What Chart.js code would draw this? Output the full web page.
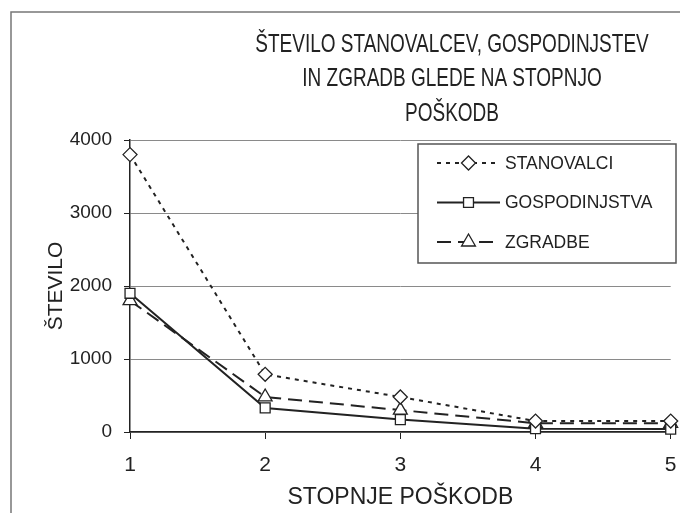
<!DOCTYPE html>
<html>
<head>
<meta charset="utf-8">
<script src="https://cdn.jsdelivr.net/npm/chart.js@4/dist/chart.umd.min.js"></script>
<style>
  html, body { margin: 0; padding: 0; background: #fff; }
  #wrap { width: 680px; height: 513px; }
</style>
</head>
<body>
<div id="wrap"><canvas id="c" width="680" height="513"></canvas></div>
<script>
// Damage levels on the x axis
const stopnje = ['1', '2', '3', '4', '5'];

// Counts per damage level
const stanovalci = [3800, 790, 480, 150, 150];
const gospodinjstva = [1900, 330, 170, 45, 40];
const zgradbe = [1800, 480, 300, 120, 120];

const seriesNames = ['STANOVALCI', 'GOSPODINJSTVA', 'ZGRADBE'];
const titleLines = ['ŠTEVILO STANOVALCEV, GOSPODINJSTEV', 'IN ZGRADB GLEDE NA STOPNJO', 'POŠKODB'];
const yTitle = 'ŠTEVILO';
const xTitle = 'STOPNJE POŠKODB';

const INK = '#222';
const FONT = '"Liberation Sans", Arial, sans-serif';

// Frame, condensed title and boxed legend drawn on top of the chart
const decor = {
  id: 'decor',
  afterDraw(chart) {
    const ctx = chart.ctx;
    ctx.save();
    // outer frame (top and left edges)
    ctx.strokeStyle = '#777';
    ctx.lineWidth = 1.5;
    ctx.beginPath();
    ctx.moveTo(11, 513);
    ctx.lineTo(11, 12);
    ctx.lineTo(680, 12);
    ctx.stroke();

    // title, set in a condensed width
    const squeeze = 0.76;
    const cx = 452;
    ctx.save();
    ctx.translate(cx, 0);
    ctx.scale(squeeze, 1);
    ctx.fillStyle = INK;
    ctx.font = '25px ' + FONT;
    ctx.textAlign = 'center';
    ctx.textBaseline = 'middle';
    titleLines.forEach((t, i) => ctx.fillText(t, 0, 45 + i * 34.5));
    ctx.restore();

    // legend box
    const lx = 418, ly = 144, lw = 258, lh = 119;
    ctx.fillStyle = '#fff';
    ctx.fillRect(lx, ly, lw, lh);
    ctx.strokeStyle = '#555';
    ctx.lineWidth = 1.5;
    ctx.strokeRect(lx, ly, lw, lh);

    chart.data.datasets.forEach((ds, i) => {
      const y = 163 + i * 39.5;
      const x0 = 437, x1 = 500, xm = (x0 + x1) / 2;
      ctx.strokeStyle = ds.borderColor;
      ctx.lineWidth = ds.borderWidth;
      ctx.setLineDash(ds.borderDash || []);
      ctx.beginPath();
      ctx.moveTo(x0, y);
      ctx.lineTo(x1, y);
      ctx.stroke();
      ctx.setLineDash([]);
      ctx.fillStyle = ds.pointBackgroundColor;
      ctx.strokeStyle = ds.pointBorderColor;
      ctx.lineWidth = ds.pointBorderWidth;
      Chart.helpers.drawPoint(ctx, {
        pointStyle: ds.pointStyle,
        radius: ds.pointRadius,
        borderWidth: ds.pointBorderWidth,
        rotation: 0
      }, xm, y);
      ctx.fillStyle = INK;
      ctx.font = '17.5px ' + FONT;
      ctx.textAlign = 'left';
      ctx.textBaseline = 'middle';
      ctx.fillText(ds.label, 505, y + 1);
    });
    ctx.restore();
  }
};

// one line series with white-filled markers
function series(label, data, dash, style, r) {
  return {
    label, data,
    borderColor: INK,
    borderWidth: 2,
    borderDash: dash,
    pointStyle: style,
    pointRadius: r,
    pointHoverRadius: r,
    pointBackgroundColor: '#fff',
    pointBorderColor: INK,
    pointBorderWidth: 1.3,
    tension: 0,
    fill: false,
    clip: 10
  };
}

Chart.defaults.font.family = FONT;
Chart.defaults.color = INK;

new Chart(document.getElementById('c'), {
  type: 'line',
  data: {
    labels: stopnje,
    datasets: [
      series(seriesNames[0], stanovalci, [4, 5], 'rectRot', 7),
      series(seriesNames[1], gospodinjstva, [], 'rect', 7),
      series(seriesNames[2], zgradbe, [14, 7], 'triangle', 8)
    ]
  },
  plugins: [decor],
  options: {
    responsive: false,
    animation: false,
    events: [],
    layout: { padding: { left: 0, top: 140, right: 4, bottom: 0 } },
    plugins: {
      legend: { display: false },
      title: { display: false },
      tooltip: { enabled: false }
    },
    scales: {
      x: {
        type: 'category',
        offset: false,
        grid: {
          drawOnChartArea: false,
          drawTicks: true,
          tickLength: 7,
          color: INK,
          lineWidth: 1
        },
        border: { color: INK, width: 1.5 },
        ticks: { font: { size: 21 }, padding: 14, color: INK, maxRotation: 0 },
        title: {
          display: true, text: xTitle,
          font: { size: 23 }, color: INK,
          padding: { top: 0, bottom: 2 }
        },
        // the last label may run past the right edge
        afterFit(s) { s.height = 81; s.paddingLeft = 0; s.paddingRight = 0; }
      },
      y: {
        min: 0, max: 4000,
        ticks: {
          stepSize: 1000, font: { size: 19 }, padding: 12, color: INK,
          callback: (v) => String(v)
        },
        grid: {
          color: '#8a8a8a',
          lineWidth: 1,
          tickLength: 6,
          tickColor: INK
        },
        border: { color: INK, width: 1.5 },
        title: {
          display: true, text: yTitle,
          font: { size: 21 }, color: INK,
          padding: { top: 44 }
        },
        afterFit(s) { s.width = 130; }
      }
    }
  }
});
</script>
</body>
</html>
